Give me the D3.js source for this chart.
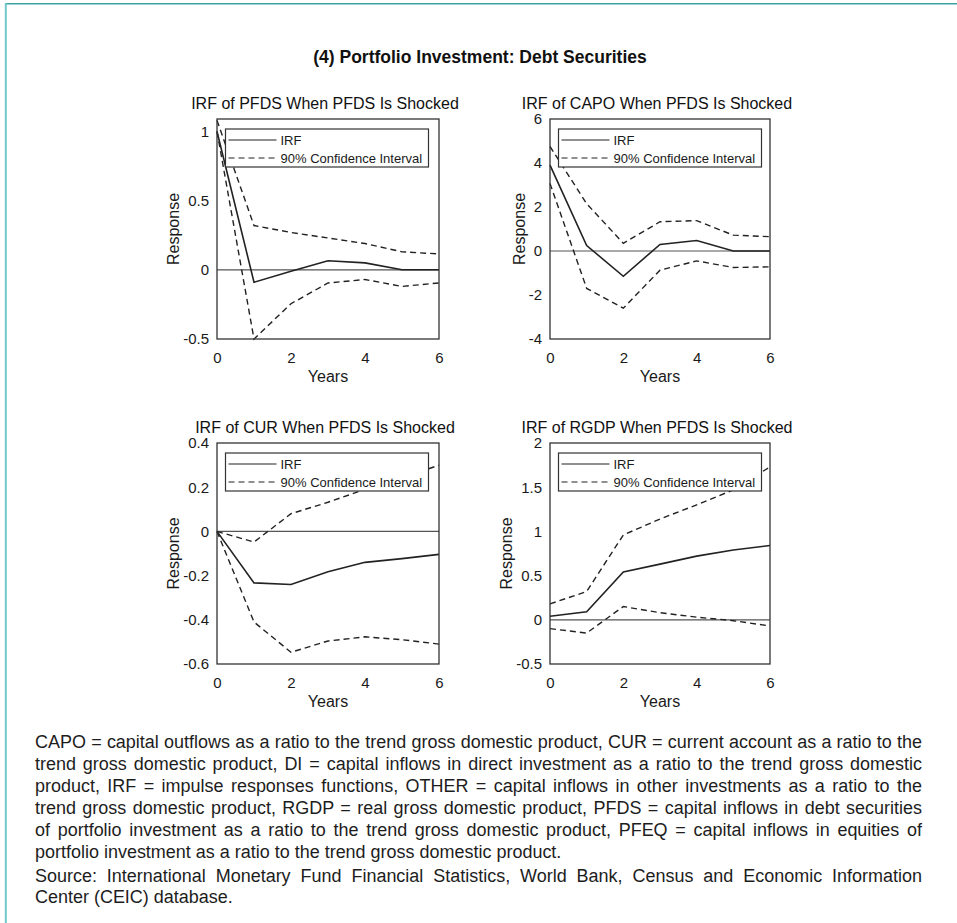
<!DOCTYPE html>
<html lang="en">
<head>
<meta charset="utf-8">
<title>IRF - Portfolio Investment: Debt Securities</title>
<script src="https://cdn.jsdelivr.net/npm/d3@7"></script>
<style>
  body { margin: 0; background: #fff; }
  svg { display: block; font-family: "Liberation Sans", Arial, sans-serif; }
  .tick text { fill: #1a1a1a; }
</style>
</head>
<body>
<script>
// years after the shock
const years = [0, 1, 2, 3, 4, 5, 6];
const xTicks = [0, 2, 4, 6];

// PFDS response
const pfdsIrf   = [1.0, -0.09, -0.01, 0.065, 0.05, 0.0, 0.0];
const pfdsUpper = [1.08, 0.32, 0.27, 0.23, 0.19, 0.13, 0.115];
const pfdsLower = [1.0, -0.5, -0.245, -0.095, -0.07, -0.12, -0.095];
const pfdsDomain = [-0.5, 1.09];
const pfdsTicks = [-0.5, 0, 0.5, 1];

// CAPO response
const capoIrf   = [3.9, 0.25, -1.15, 0.3, 0.48, 0.0, 0.0];
const capoUpper = [4.75, 2.15, 0.35, 1.33, 1.38, 0.72, 0.65];
const capoLower = [3.07, -1.7, -2.6, -0.87, -0.45, -0.75, -0.72];
const capoDomain = [-4, 6];
const capoTicks = [-4, -2, 0, 2, 4, 6];

// CUR response
const curIrf   = [0, -0.233, -0.24, -0.183, -0.14, -0.123, -0.104];
const curUpper = [0, -0.048, 0.08, 0.132, 0.19, 0.24, 0.3];
const curLower = [0, -0.41, -0.547, -0.496, -0.477, -0.49, -0.51];
const curDomain = [-0.6, 0.4];
const curTicks = [-0.6, -0.4, -0.2, 0, 0.2, 0.4];

// RGDP response
const rgdpIrf   = [0.04, 0.09, 0.54, 0.63, 0.72, 0.79, 0.84];
const rgdpUpper = [0.18, 0.32, 0.96, 1.14, 1.3, 1.47, 1.73];
const rgdpLower = [-0.1, -0.15, 0.15, 0.08, 0.03, -0.01, -0.07];
const rgdpDomain = [-0.5, 2];
const rgdpTicks = [-0.5, 0, 0.5, 1, 1.5, 2];

const panelTitles = [
  "IRF of PFDS When PFDS Is Shocked",
  "IRF of CAPO When PFDS Is Shocked",
  "IRF of CUR When PFDS Is Shocked",
  "IRF of RGDP When PFDS Is Shocked"
];
const legendLabels = ["IRF", "90% Confidence Interval"];

const mainTitle = "(4) Portfolio Investment: Debt Securities";
const noteLines = [
  "CAPO = capital outflows as a ratio to the trend gross domestic product, CUR = current account as a ratio to the",
  "trend gross domestic product, DI = capital inflows in direct investment as a ratio to the trend gross domestic",
  "product, IRF = impulse responses functions, OTHER = capital inflows in other investments as a ratio to the",
  "trend gross domestic product, RGDP = real gross domestic product, PFDS = capital inflows in debt securities",
  "of portfolio investment as a ratio to the trend gross domestic product, PFEQ = capital inflows in equities of",
  "portfolio investment as a ratio to the trend gross domestic product.",
  "Source: International Monetary Fund Financial Statistics, World Bank, Census and Economic Information",
  "Center (CEIC) database."
];
const noteJustify = [true, true, true, true, true, false, true, false];

const width = 957, height = 923;

const svg = d3.select('body').append('svg')
    .attr('width', width)
    .attr('height', height);

// frame of the page
svg.append('line')
    .attr('x1', 5).attr('x2', width).attr('y1', 3.7).attr('y2', 3.7)
    .attr('stroke', '#3aa3a3').attr('stroke-width', 1.6);
svg.append('line')
    .attr('x1', 5.8).attr('x2', 5.8).attr('y1', 3).attr('y2', height)
    .attr('stroke', '#72c8c8').attr('stroke-width', 2);

svg.append('text')
    .attr('x', 480).attr('y', 63)
    .attr('text-anchor', 'middle')
    .style('font-weight', 'bold')
    .style('font-size', '17.5px')
    .style('fill', '#111')
    .text(mainTitle);

const panels = [
  { title: panelTitles[0], irf: pfdsIrf, upper: pfdsUpper, lower: pfdsLower, domain: pfdsDomain, ticks: pfdsTicks,
    left: 217, right: 439, top: 119, bottom: 339 },
  { title: panelTitles[1], irf: capoIrf, upper: capoUpper, lower: capoLower, domain: capoDomain, ticks: capoTicks,
    left: 550, right: 770, top: 119, bottom: 339 },
  { title: panelTitles[2], irf: curIrf, upper: curUpper, lower: curLower, domain: curDomain, ticks: curTicks,
    left: 217, right: 439, top: 443, bottom: 664 },
  { title: panelTitles[3], irf: rgdpIrf, upper: rgdpUpper, lower: rgdpLower, domain: rgdpDomain, ticks: rgdpTicks,
    left: 550, right: 770, top: 443, bottom: 664 }
];

const ink = '#222';

panels.forEach(p => {
  const x = d3.scaleLinear().domain([0, 6]).range([p.left, p.right]);
  const y = d3.scaleLinear().domain(p.domain).range([p.bottom, p.top]);
  const g = svg.append('g');

  // zero reference line
  g.append('line')
      .attr('x1', x(0)).attr('x2', x(6))
      .attr('y1', y(0)).attr('y2', y(0))
      .attr('stroke', '#555').attr('stroke-width', 1.2);

  const line = d3.line().x((d, i) => x(years[i])).y(d => y(d));

  [p.upper, p.lower].forEach(s => {
    g.append('path').datum(s)
        .attr('d', line)
        .attr('fill', 'none')
        .attr('stroke', ink)
        .attr('stroke-width', 1.4)
        .attr('stroke-dasharray', '6,4');
  });
  g.append('path').datum(p.irf)
      .attr('d', line)
      .attr('fill', 'none')
      .attr('stroke', ink)
      .attr('stroke-width', 1.6);

  // axes box
  g.append('rect')
      .attr('x', p.left).attr('y', p.top)
      .attr('width', p.right - p.left).attr('height', p.bottom - p.top)
      .attr('fill', 'none').attr('stroke', '#333').attr('stroke-width', 1.3);

  const yAxis = g.append('g')
      .attr('transform', `translate(${p.left},0)`)
      .call(d3.axisLeft(y).tickValues(p.ticks).tickSize(0).tickPadding(8).tickFormat(d => String(d)));
  yAxis.select('.domain').remove();
  yAxis.selectAll('text').style('font-size', '15px');

  const xAxis = g.append('g')
      .attr('transform', `translate(0,${p.bottom})`)
      .call(d3.axisBottom(x).tickValues(xTicks).tickSize(0).tickPadding(13).tickFormat(d => String(d)));
  xAxis.select('.domain').remove();
  xAxis.selectAll('text').style('font-size', '15px');

  let maxW = 0;
  yAxis.selectAll('text').each(function() { maxW = Math.max(maxW, this.getComputedTextLength()); });

  g.append('text')
      .attr('transform', `translate(${p.left - 8 - maxW - 4},${(p.top + p.bottom) / 2}) rotate(-90)`)
      .attr('text-anchor', 'middle')
      .style('font-size', '16px').style('fill', '#1a1a1a')
      .text('Response');

  g.append('text')
      .attr('x', (p.left + p.right) / 2).attr('y', p.bottom + 43)
      .attr('text-anchor', 'middle')
      .style('font-size', '16px').style('fill', '#1a1a1a')
      .text('Years');

  g.append('text')
      .attr('x', (p.left + p.right) / 2 - 3).attr('y', p.top - 10)
      .attr('text-anchor', 'middle')
      .style('font-size', '16px').style('fill', '#111')
      .text(p.title);

  // legend
  const lg = g.append('g').attr('transform', `translate(${p.left + 8.5},${p.top + 10})`);
  lg.append('rect')
      .attr('width', 203).attr('height', 38)
      .attr('fill', '#fff').attr('stroke', '#333').attr('stroke-width', 1.2);
  legendLabels.forEach((lab, i) => {
    const cy = 11 + i * 18;
    lg.append('line')
        .attr('x1', 3).attr('x2', 51).attr('y1', cy).attr('y2', cy)
        .attr('stroke', ink).attr('stroke-width', 1.2)
        .attr('stroke-dasharray', i === 0 ? null : '6,4');
    lg.append('text')
        .attr('x', 55).attr('y', cy + 4.5)
        .style('font-size', '13px').style('fill', '#1a1a1a')
        .text(lab);
  });
});

// notes under the chart, justified line by line
const noteLeft = 35, noteRight = 922;
const noteBase = [748, 770, 792, 814, 836, 858, 882, 903];
const noteTexts = noteLines.map((t, i) => svg.append('text')
    .attr('x', noteLeft).attr('y', noteBase[i])
    .style('font-size', '16px').style('fill', '#1d1d1d')
    .text(t));

// size the font so the widest justified line just fills the column
let fit = Infinity;
noteTexts.forEach((txt, i) => {
  if (noteJustify[i]) fit = Math.min(fit, (noteRight - noteLeft) / txt.node().getComputedTextLength());
});
const noteSize = 16 * fit * 0.995;
noteTexts.forEach((txt, i) => {
  txt.style('font-size', noteSize + 'px');
  if (noteJustify[i]) {
    const t = noteLines[i];
    const len = txt.node().getComputedTextLength();
    const spaces = t.split(' ').length - 1;
    txt.attr('word-spacing', (noteRight - noteLeft - len) / spaces);
  }
});
</script>
</body>
</html>
